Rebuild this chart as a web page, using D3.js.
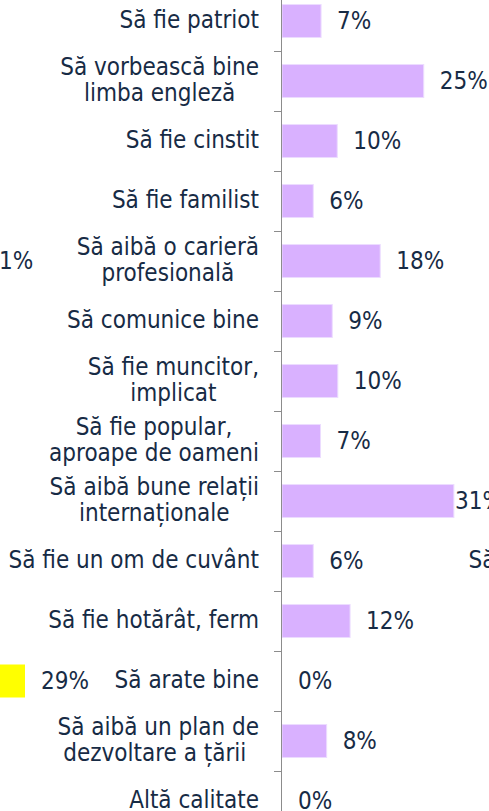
<!DOCTYPE html>
<html>
<head>
<meta charset="utf-8">
<script src="https://cdn.jsdelivr.net/npm/d3@7"></script>
<style>
body { margin: 0; background: #fff; overflow: hidden; }
text {
	font-family: "DejaVu Sans Condensed", "DejaVu Sans", sans-serif;
	font-stretch: condensed;
	font-size: 24px;
	fill: #172b45;
}
</style>
</head>
<body>
<script>
// categories, top to bottom ("\n" = line break in the label)
var categories = [
	"Să fie patriot",
	"Să vorbească bine\nlimba engleză",
	"Să fie cinstit",
	"Să fie familist",
	"Să aibă o carieră\nprofesională",
	"Să comunice bine",
	"Să fie muncitor,\nimplicat",
	"Să fie popular,\naproape de oameni",
	"Să aibă bune relații\ninternaționale",
	"Să fie un om de cuvânt",
	"Să fie hotărât, ferm",
	"Să arate bine",
	"Să aibă un plan de\ndezvoltare a țării ",
	"Altă calitate"
];
// main panel, percent
var values = [7.0, 25.4, 9.9, 5.6, 17.6, 9.0, 10.0, 6.9, 30.8, 5.6, 12.2, 0, 8.0, 0];
// neighbour panel on the left, only the part that shows
var leftValues = [null, null, null, null, 1, null, null, null, null, null, null, 29, null, null];

var W = 489, H = 811,
	axisX = 282,
	labelRight = 259,
	panelShift = 460,
	labelMax = 173,
	lineH = 25.5;

var fmt = function(v) { return Math.round(v) + "%"; };

var y = d3.scaleBand()
	.domain(d3.range(categories.length))
	.range([-9, -9 + 60 * categories.length])
	.paddingInner(0.45)
	.paddingOuter(0.225);
var x = d3.scaleLinear().domain([0, 35]).range([0, 195.3]);
var xLeft = d3.scaleLinear().domain([0, 29]).range([-18.5, 25]);

var svg = d3.select("body").append("svg")
	.attr("width", W)
	.attr("height", H);

function mid(i) { return y(i) + y.bandwidth() / 2; }

function drawLabels(g, right) {
	var lab = g.selectAll("g.cat")
		.data(categories)
		.enter().append("g").attr("class", "cat");

	lab.each(function(d, i) {
		var lines = d.split("\n"),
			n = lines.length,
			node = d3.select(this);
		lines.forEach(function(l, k) {
			node.append("text")
				.attr("text-anchor", "middle")
				.attr("xml:space", "preserve")
				.attr("y", mid(i) + 7 + (k - (n - 1) / 2) * lineH)
				.text(l);
		});
		var wMax = d3.max(node.selectAll("text").nodes(), function(t) { return t.getComputedTextLength(); });
		node.selectAll("text").attr("x", right - wMax / 2);
	});
}

// main panel
var chart = svg.append("g").attr("transform", "translate(" + axisX + ",0)");

chart.append("g").attr("class", "bars")
	.selectAll("rect")
	.data(values)
	.enter().append("rect")
	.attr("x", 0)
	.attr("y", function(d, i) { return y(i); })
	.attr("width", function(d) { return x(d); })
	.attr("height", y.bandwidth())
	.attr("fill", "#d9b1ff")
	.attr("stroke", "#ecdcff")
	.attr("stroke-width", 1);

chart.append("line")
	.attr("x1", -0.5).attr("x2", -0.5)
	.attr("y1", y.range()[0]).attr("y2", y.range()[1])
	.attr("stroke", "#8c8c8c");

var step = y.step();
chart.append("g").attr("class", "ticks")
	.selectAll("line")
	.data(d3.range(categories.length + 1))
	.enter().append("line")
	.attr("x1", -8).attr("x2", 0)
	.attr("y1", function(i) { return Math.round(y.range()[0] + i * step) + 0.5; })
	.attr("y2", function(i) { return Math.round(y.range()[0] + i * step) + 0.5; })
	.attr("stroke", "#8c8c8c");

chart.append("g").attr("class", "values")
	.selectAll("text")
	.data(values)
	.enter().append("text")
	.attr("x", function(d) { return Math.min(x(d) + 16, labelMax); })
	.attr("y", function(d, i) { return mid(i) + 7.5; })
	.text(fmt);

drawLabels(svg.append("g"), labelRight);

// left neighbour panel (cut off)
var left = svg.append("g").attr("class", "left");
var leftData = leftValues.map(function(v, i) { return {v: v, i: i}; })
	.filter(function(d) { return d.v !== null; });

left.selectAll("rect")
	.data(leftData.filter(function(d) { return d.v > 1; }))
	.enter().append("rect")
	.attr("x", xLeft(0))
	.attr("y", function(d) { return y(d.i); })
	.attr("width", function(d) { return xLeft(d.v) - xLeft(0); })
	.attr("height", y.bandwidth())
	.attr("fill", "#ffff00");

left.selectAll("text")
	.data(leftData)
	.enter().append("text")
	.attr("x", function(d) { return xLeft(d.v) + 16; })
	.attr("y", function(d) { return mid(d.i) + 7.5; })
	.text(function(d) { return fmt(d.v); });

// right neighbour panel labels (cut off)
drawLabels(svg.append("g").attr("class", "right"), labelRight + panelShift);
</script>
</body>
</html>
